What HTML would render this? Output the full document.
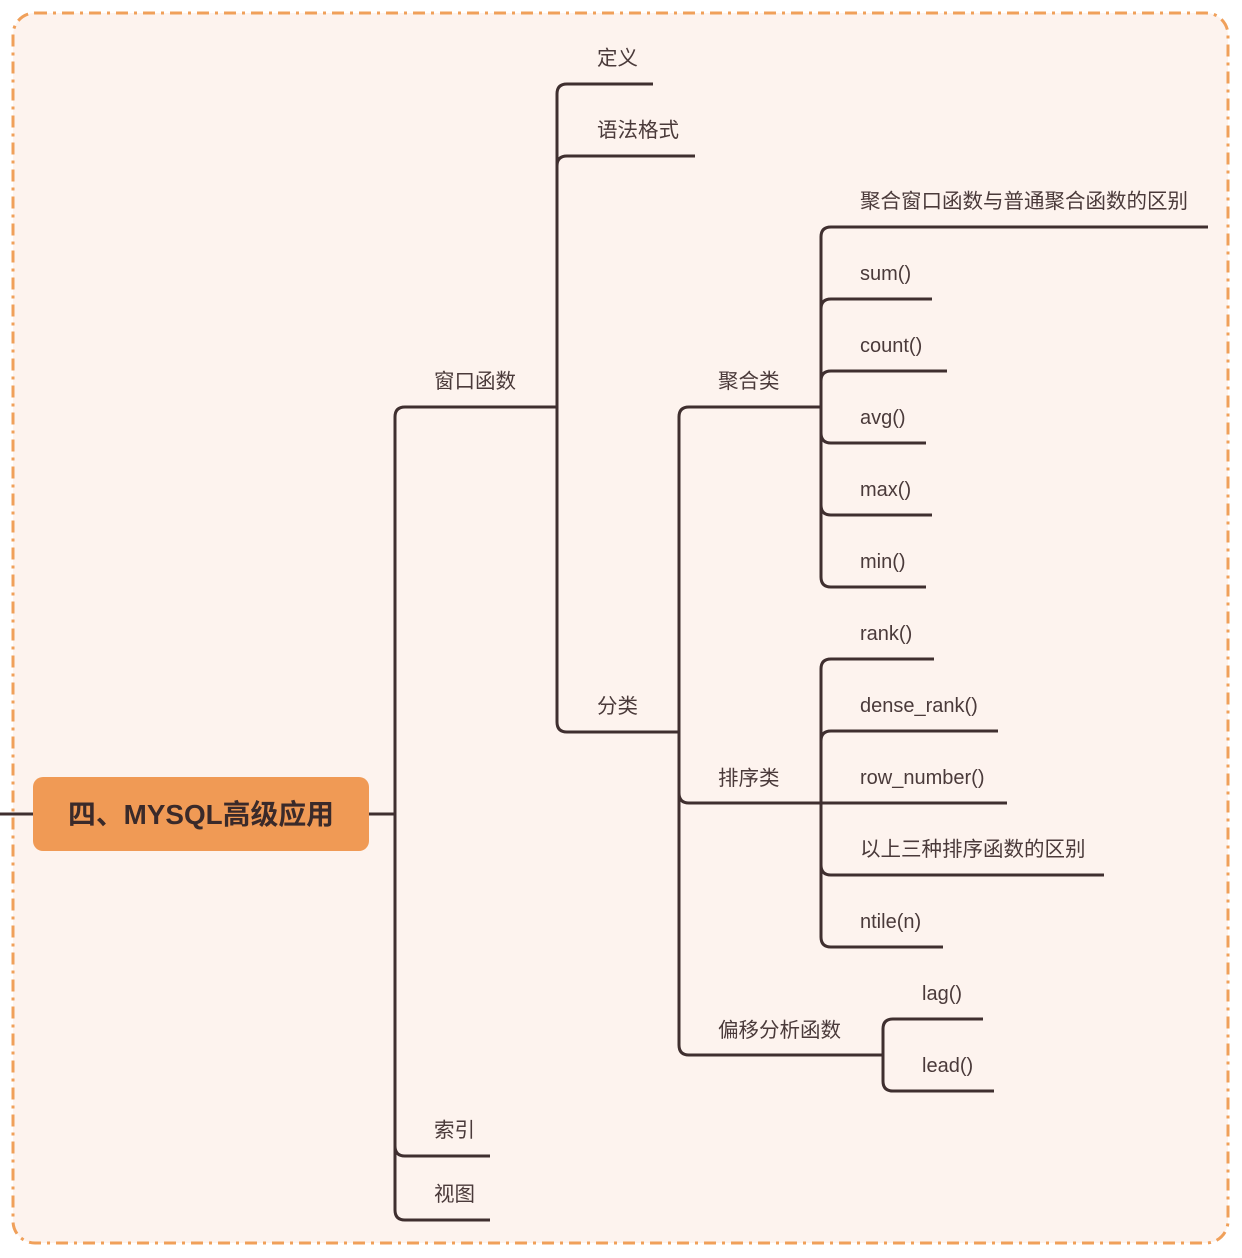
<!DOCTYPE html>
<html><head><meta charset="utf-8"><style>
html,body{margin:0;padding:0;background:#fff;}
svg{display:block}
text{font-family:"Liberation Sans","Noto Sans CJK SC",sans-serif;fill:#4a3a3a;font-size:20px}
.c{font-size:20.5px}
</style></head><body>
<svg width="1242" height="1258" viewBox="0 0 1242 1258">
<rect x="13" y="13" width="1215" height="1230" rx="22" fill="#fdf3ee" stroke="#f0a05a" stroke-width="3" stroke-dasharray="12,6,3,6"/>
<g fill="none" stroke="#3f2f2f" stroke-width="3" stroke-linecap="butt">
<path d="M0 814 H33"/>
<path d="M369 814 H395"/>
<path d="M395 417 V1210"/>
<path d="M395 417 Q395 407 405 407 H557"/>
<path d="M395 1146 Q395 1156 405 1156 H490"/>
<path d="M395 1210 Q395 1220 405 1220 H490"/>
<path d="M557 94 V722"/>
<path d="M557 94 Q557 84 567 84 H653"/>
<path d="M557 166 Q557 156 567 156 H695"/>
<path d="M557 722 Q557 732 567 732 H679"/>
<path d="M679 417 V1045"/>
<path d="M679 417 Q679 407 689 407 H821"/>
<path d="M679 793 Q679 803 689 803 H821"/>
<path d="M679 1045 Q679 1055 689 1055 H883"/>
<path d="M821 237 V577"/>
<path d="M821 237 Q821 227 831 227 H1208"/>
<path d="M821 309 Q821 299 831 299 H932"/>
<path d="M821 381 Q821 371 831 371 H947"/>
<path d="M821 433 Q821 443 831 443 H926"/>
<path d="M821 505 Q821 515 831 515 H932"/>
<path d="M821 577 Q821 587 831 587 H926"/>
<path d="M821 669 V937"/>
<path d="M821 669 Q821 659 831 659 H934"/>
<path d="M821 741 Q821 731 831 731 H998"/>
<path d="M821 803 H1007"/>
<path d="M821 865 Q821 875 831 875 H1104"/>
<path d="M821 937 Q821 947 831 947 H943"/>
<path d="M883 1029 V1081"/>
<path d="M883 1029 Q883 1019 893 1019 H983"/>
<path d="M883 1081 Q883 1091 893 1091 H994"/>
</g>
<rect x="33" y="777" width="336" height="74" rx="10" fill="#f09a55"/>
<text x="201" y="824" text-anchor="middle" style="font-size:28px;fill:#3a2a2a;font-weight:bold" textLength="266" lengthAdjust="spacingAndGlyphs">四、MYSQL高级应用</text>
<text class="c" x="434" y="388">窗口函数</text>
<text class="c" x="434" y="1137">索引</text>
<text class="c" x="434" y="1201">视图</text>
<text class="c" x="597" y="65">定义</text>
<text class="c" x="597" y="137">语法格式</text>
<text class="c" x="597" y="713">分类</text>
<text class="c" x="718" y="388">聚合类</text>
<text class="c" x="718" y="785">排序类</text>
<text class="c" x="718" y="1037">偏移分析函数</text>
<text class="c" x="860" y="208">聚合窗口函数与普通聚合函数的区别</text>
<text x="860" y="280">sum()</text>
<text x="860" y="352">count()</text>
<text x="860" y="424">avg()</text>
<text x="860" y="496">max()</text>
<text x="860" y="568">min()</text>
<text x="860" y="640">rank()</text>
<text x="860" y="712">dense_rank()</text>
<text x="860" y="784">row_number()</text>
<text class="c" x="860" y="856">以上三种排序函数的区别</text>
<text x="860" y="928">ntile(n)</text>
<text x="922" y="1000">lag()</text>
<text x="922" y="1072">lead()</text>
</svg>
</body></html>
